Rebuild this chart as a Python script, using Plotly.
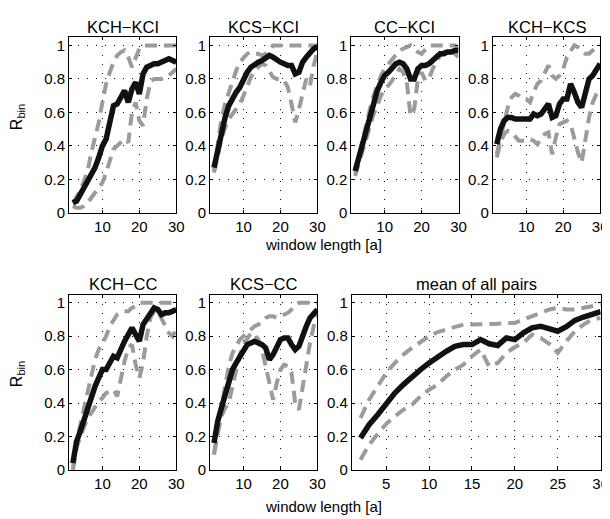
import plotly.graph_objects as go

WINDOW = list(range(2, 31))

TITLES = ["KCH\u2212KCI", "KCS\u2212KCI", "CC\u2212KCI", "KCH\u2212KCS",
          "KCH\u2212CC", "KCS\u2212CC", "mean of all pairs"]

KCH_KCI_MEAN = [0.06, 0.07, 0.11, 0.15, 0.19, 0.23, 0.27, 0.33, 0.40, 0.44, 0.55, 0.64, 0.65, 0.70, 0.73,
                0.66, 0.74, 0.78, 0.71, 0.83, 0.87, 0.88, 0.89, 0.89, 0.90, 0.91, 0.92, 0.91, 0.90]
KCH_KCI_UPPER = [0.06, 0.09, 0.13, 0.19, 0.25, 0.36, 0.45, 0.54, 0.66, 0.77, 0.84, 0.90, 0.94, 0.96, 0.97,
                 0.93, 0.87, 0.92, 0.98, 1.0, 1.0, 1.0, 1.0, 1.0, 1.0, 1.0, 1.0, 1.0, 1.0]
KCH_KCI_LOWER = [0.04, 0.03, 0.03, 0.04, 0.06, 0.09, 0.12, 0.15, 0.18, 0.24, 0.31, 0.38, 0.40, 0.42, 0.44,
                 0.42, 0.60, 0.66, 0.55, 0.52, 0.68, 0.78, 0.80, 0.80, 0.80, 0.81, 0.82, 0.84, 0.86]

KCS_KCI_MEAN = [0.27, 0.38, 0.49, 0.57, 0.64, 0.69, 0.72, 0.75, 0.80, 0.84, 0.87, 0.89, 0.90, 0.91, 0.93,
                0.94, 0.93, 0.91, 0.90, 0.89, 0.88, 0.88, 0.83, 0.84, 0.90, 0.93, 0.96, 0.98, 0.99]
KCS_KCI_UPPER = [0.25, 0.42, 0.56, 0.65, 0.72, 0.78, 0.85, 0.90, 0.93, 0.95, 0.96, 0.95, 0.95, 0.94, 0.95,
                 0.97, 1.0, 1.0, 1.0, 1.0, 1.0, 1.0, 1.0, 1.0, 1.0, 1.0, 1.0, 1.0, 1.0]
KCS_KCI_LOWER = [0.24, 0.35, 0.44, 0.51, 0.56, 0.59, 0.62, 0.65, 0.70, 0.76, 0.81, 0.85, 0.87, 0.89, 0.88,
                 0.85, 0.81, 0.80, 0.80, 0.79, 0.75, 0.65, 0.54, 0.62, 0.72, 0.80, 0.76, 0.88, 0.96]

CC_KCI_MEAN = [0.25, 0.33, 0.42, 0.50, 0.56, 0.66, 0.73, 0.78, 0.82, 0.84, 0.87, 0.89, 0.90, 0.89, 0.86,
               0.80, 0.80, 0.86, 0.88, 0.88, 0.89, 0.91, 0.93, 0.95, 0.95, 0.96, 0.96, 0.97, 0.97]
CC_KCI_UPPER = [0.24, 0.34, 0.44, 0.54, 0.62, 0.70, 0.77, 0.82, 0.86, 0.89, 0.92, 0.95, 0.97, 0.98, 0.99,
                1.0, 0.98, 0.96, 0.95, 0.98, 1.0, 1.0, 1.0, 1.0, 1.0, 1.0, 1.0, 1.0, 0.98]
CC_KCI_LOWER = [0.22, 0.29, 0.37, 0.45, 0.52, 0.59, 0.64, 0.70, 0.74, 0.76, 0.79, 0.83, 0.86, 0.84, 0.78,
                0.58, 0.62, 0.80, 0.84, 0.79, 0.80, 0.86, 0.90, 0.94, 0.96, 0.97, 0.97, 0.95, 0.93]

KCH_KCS_MEAN = [0.41, 0.50, 0.55, 0.57, 0.57, 0.56, 0.56, 0.56, 0.56, 0.56, 0.59, 0.58, 0.59, 0.62, 0.65,
                0.57, 0.58, 0.65, 0.68, 0.68, 0.77, 0.72, 0.66, 0.63, 0.72, 0.80, 0.82, 0.85, 0.89]
KCH_KCS_UPPER = [0.35, 0.45, 0.55, 0.63, 0.69, 0.71, 0.70, 0.68, 0.68, 0.66, 0.72, 0.77, 0.79, 0.84, 0.88,
                 0.82, 0.80, 0.82, 0.86, 0.93, 0.97, 1.0, 0.99, 0.97, 0.95, 0.95, 0.97, 0.99, 1.0]
KCH_KCS_LOWER = [0.33, 0.42, 0.47, 0.49, 0.48, 0.45, 0.43, 0.43, 0.43, 0.44, 0.43, 0.41, 0.44, 0.47, 0.48,
                 0.35, 0.45, 0.53, 0.54, 0.55, 0.53, 0.44, 0.36, 0.30, 0.45, 0.57, 0.66, 0.71, 0.74]

KCH_CC_MEAN = [0.04, 0.17, 0.23, 0.30, 0.38, 0.44, 0.50, 0.55, 0.60, 0.60, 0.64, 0.68, 0.67, 0.73, 0.77,
               0.81, 0.85, 0.81, 0.77, 0.87, 0.90, 0.94, 0.97, 0.96, 0.93, 0.94, 0.94, 0.95, 0.96]
KCH_CC_UPPER = [0.0, 0.17, 0.27, 0.37, 0.47, 0.57, 0.66, 0.72, 0.76, 0.80, 0.86, 0.90, 0.93, 0.94, 0.95,
                0.95, 0.97, 0.98, 1.0, 1.0, 1.0, 1.0, 1.0, 1.0, 1.0, 1.0, 1.0, 1.0, 1.0]
KCH_CC_LOWER = [0.0, 0.13, 0.20, 0.26, 0.31, 0.34, 0.38, 0.41, 0.43, 0.46, 0.47, 0.48, 0.44, 0.55, 0.65,
                0.73, 0.75, 0.63, 0.55, 0.64, 0.80, 0.91, 0.95, 0.95, 0.91, 0.86, 0.82, 0.80, 0.84]

KCS_CC_MEAN = [0.16, 0.29, 0.37, 0.44, 0.52, 0.60, 0.64, 0.68, 0.72, 0.75, 0.76, 0.77, 0.76, 0.75, 0.73,
               0.66, 0.69, 0.74, 0.78, 0.79, 0.79, 0.75, 0.72, 0.74, 0.81, 0.86, 0.91, 0.94, 0.96]
KCS_CC_UPPER = [0.09, 0.24, 0.36, 0.50, 0.62, 0.70, 0.74, 0.78, 0.80, 0.82, 0.84, 0.86, 0.87, 0.89, 0.91,
                0.92, 0.92, 0.91, 0.92, 0.93, 0.94, 0.96, 0.98, 1.0, 1.0, 1.0, 1.0, 1.0, 1.0]
KCS_CC_LOWER = [0.10, 0.22, 0.32, 0.37, 0.40, 0.50, 0.60, 0.69, 0.75, 0.79, 0.82, 0.81, 0.78, 0.72, 0.62,
                0.50, 0.42, 0.52, 0.60, 0.63, 0.62, 0.58, 0.40, 0.36, 0.50, 0.63, 0.76, 0.86, 0.93]

ALL_MEAN = [0.19, 0.27, 0.33, 0.40, 0.46, 0.51, 0.56, 0.60, 0.64, 0.68, 0.71, 0.74, 0.75, 0.75, 0.78,
            0.755, 0.745, 0.79, 0.78, 0.82, 0.85, 0.86, 0.845, 0.83, 0.857, 0.895, 0.915, 0.93, 0.947]
ALL_UPPER = [0.31, 0.42, 0.50, 0.58, 0.64, 0.69, 0.73, 0.765, 0.80, 0.825, 0.84, 0.86, 0.87, 0.87, 0.87,
             0.87, 0.875, 0.88, 0.88, 0.90, 0.92, 0.94, 0.96, 0.97, 0.96, 0.96, 0.97, 0.98, 0.99]
ALL_LOWER = [0.06, 0.15, 0.215, 0.275, 0.32, 0.36, 0.39, 0.44, 0.48, 0.51, 0.56, 0.60, 0.63, 0.68, 0.72,
             0.62, 0.64, 0.70, 0.735, 0.76, 0.81, 0.79, 0.755, 0.70, 0.77, 0.83, 0.87, 0.90, 0.91]

SERIES = [
    (KCH_KCI_MEAN, KCH_KCI_UPPER, KCH_KCI_LOWER),
    (KCS_KCI_MEAN, KCS_KCI_UPPER, KCS_KCI_LOWER),
    (CC_KCI_MEAN, CC_KCI_UPPER, CC_KCI_LOWER),
    (KCH_KCS_MEAN, KCH_KCS_UPPER, KCH_KCS_LOWER),
    (KCH_CC_MEAN, KCH_CC_UPPER, KCH_CC_LOWER),
    (KCS_CC_MEAN, KCS_CC_UPPER, KCS_CC_LOWER),
    (ALL_MEAN, ALL_UPPER, ALL_LOWER),
]

Y_TICKS = [0, 0.2, 0.4, 0.6, 0.8, 1]
Y_TICK_LABELS = ["0", "0.2", "0.4", "0.6", "0.8", "1"]
X_TICKS_SMALL = [10, 20, 30]
X_TICKS_WIDE = [5, 10, 15, 20, 25, 30]

W, H = 610, 519
FONT = "Liberation Sans"

# pixel boxes (left, right, top, bottom)
BOXES = [
    (62, 170.5, 29.5, 208), (205, 313.5, 29.5, 208), (348, 456.5, 29.5, 208), (491.5, 600, 29.5, 208),
    (62, 170.5, 291, 469), (205, 313.5, 291, 469), (348.5, 600.5, 291, 469),
]

fig = go.Figure()
layout = dict(width=W, height=H, autosize=False, margin=dict(l=0, r=0, t=0, b=0),
              paper_bgcolor="white", plot_bgcolor="white", showlegend=False,
              font=dict(family=FONT, size=15, color="black"))
annotations = []

for i, ((mean, up, lo), box, title) in enumerate(zip(SERIES, BOXES, TITLES)):
    n = i + 1
    xa = "x" if n == 1 else f"x{n}"
    ya = "y" if n == 1 else f"y{n}"
    for s in (up, lo):
        fig.add_trace(go.Scatter(x=WINDOW, y=s, mode="lines", xaxis=xa, yaxis=ya,
                                 line=dict(color="#9b9b9b", width=4, dash="12px,7px"),
                                 hoverinfo="skip"))
    fig.add_trace(go.Scatter(x=WINDOW, y=mean, mode="lines", xaxis=xa, yaxis=ya,
                             line=dict(color="#111111", width=5.5), hoverinfo="skip"))
    l, r, t, b = box
    common = dict(showline=True, linecolor="black", linewidth=1.2, mirror="ticks",
                  ticks="inside", ticklen=3, tickcolor="black",
                  showgrid=True, gridcolor="#111111", gridwidth=1, griddash="1px,8px",
                  zeroline=False, tickfont=dict(size=15, family=FONT, color="black"))
    layout[f"xaxis{'' if n == 1 else n}"] = dict(
        domain=[l / W, r / W], anchor=ya, range=[1, 30],
        tickvals=X_TICKS_WIDE if n == 7 else X_TICKS_SMALL, **common)
    layout[f"yaxis{'' if n == 1 else n}"] = dict(
        domain=[1 - b / H, 1 - t / H], anchor=xa, range=[0, 1.05],
        tickvals=Y_TICKS, ticktext=Y_TICK_LABELS, **common)
    annotations.append(dict(text=title, x=(l + r) / 2 / W, y=1 - (t - 10.5) / H,
                            xref="paper", yref="paper", showarrow=False,
                            xanchor="center", yanchor="middle",
                            font=dict(size=16.5, family=FONT, color="black")))

for yy in (240, 506):
    annotations.append(dict(text="window length [a]", x=320 / W, y=1 - yy / H,
                            xref="paper", yref="paper", showarrow=False,
                            xanchor="center", yanchor="middle",
                            font=dict(size=15, family=FONT, color="black")))
for yy in (110, 371):
    annotations.append(dict(text="R<sub>bin</sub>", x=9 / W, y=1 - yy / H,
                            xref="paper", yref="paper", showarrow=False, textangle=-90,
                            xanchor="center", yanchor="middle",
                            font=dict(size=16, family=FONT, color="black")))

layout["annotations"] = annotations
fig.update_layout(**layout)
fig.write_html("out.html")
